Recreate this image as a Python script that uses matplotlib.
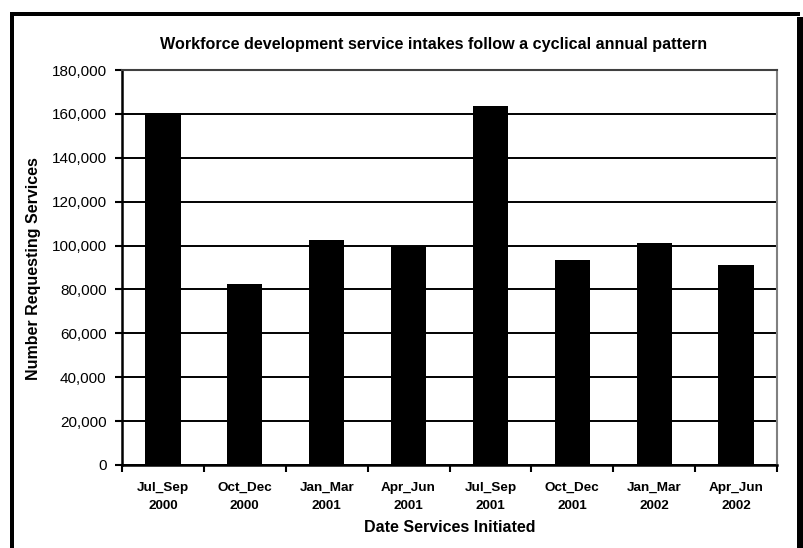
import matplotlib.pyplot as plt
from matplotlib.patches import Rectangle
from matplotlib.ticker import FuncFormatter, FixedLocator

quarters = ['Jul_Sep', 'Oct_Dec', 'Jan_Mar', 'Apr_Jun',
            'Jul_Sep', 'Oct_Dec', 'Jan_Mar', 'Apr_Jun']
years = ['2000', '2000', '2001', '2001', '2001', '2001', '2002', '2002']
intakes = [160500, 82500, 102400, 99800, 163600, 93200, 101300, 91100]
labels = ['{}\n{}'.format(q, y) for q, y in zip(quarters, years)]

plt.rcParams['font.family'] = ['Liberation Sans', 'DejaVu Sans']

W, H = 804, 548
fig = plt.figure(figsize=(W / 100, H / 100), dpi=100)


def px(x0, y0, x1, y1):
    # pixel box (top-left origin) -> figure fraction rectangle
    return (x0 / W, 1 - y1 / H), (x1 - x0) / W, (y1 - y0) / H


# chart frame with a heavier right edge
for box in [(10, 12, 14, 548), (10, 12, 800, 16), (797, 17, 804, 548)]:
    xy, w, h = px(*box)
    fig.add_artist(Rectangle(xy, w, h, transform=fig.transFigure,
                             color='black', lw=0))

ax = fig.add_axes([122 / W, 1 - 465 / H, 655 / W, 395 / H])
x = range(len(intakes))
ax.bar(x, intakes, width=0.43, color='black', zorder=3)

ax.set_xlim(-0.5, len(intakes) - 0.5)
ax.set_ylim(0, 180000)
ax.set_yticks(range(0, 180001, 20000))
ax.yaxis.set_major_formatter(FuncFormatter(lambda v, p: '{:,.0f}'.format(v)))
ax.grid(axis='y', color='black', lw=1.4, zorder=1)

# category boundaries carry the ticks, centers carry the labels
ax.xaxis.set_major_locator(FixedLocator([i - 0.5 for i in range(len(intakes) + 1)]))
ax.xaxis.set_minor_locator(FixedLocator(list(x)))
ax.set_xticklabels([])
ax.set_xticklabels(labels, minor=True, fontsize=9.7, fontweight='bold',
                   linespacing=1.65)
ax.tick_params(axis='x', which='major', length=5, width=1.5, direction='out')
ax.tick_params(axis='x', which='minor', length=0, pad=12)
ax.tick_params(axis='y', length=5, width=1.5, direction='out', labelsize=11,
               pad=6)

for side in ['left', 'bottom']:
    ax.spines[side].set_linewidth(1.8)
    ax.spines[side].set_color('black')
ax.spines['right'].set_color('#808080')
ax.spines['right'].set_linewidth(1.5)
ax.spines['top'].set_color('#404040')
ax.spines['top'].set_linewidth(1.5)

fig.text(434 / W, 1 - 45 / H,
         'Workforce development service intakes follow a cyclical annual pattern',
         ha='center', va='center', fontsize=11.6, fontweight='bold')
fig.text(34 / W, 1 - 269 / H, 'Number Requesting Services', rotation=90,
         ha='center', va='center', fontsize=11.5, fontweight='bold')
fig.text(449.5 / W, 1 - 528 / H, 'Date Services Initiated',
         ha='center', va='center', fontsize=11.5, fontweight='bold')

fig.savefig('out.png', dpi=100)
